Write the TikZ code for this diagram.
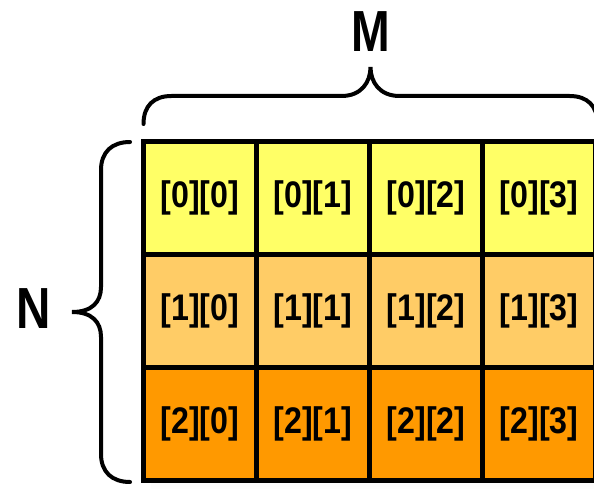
\documentclass[tikz,border=0pt]{standalone}
\usepackage{fontspec}
\setmainfont{Liberation Sans}
\usetikzlibrary{positioning,calc,backgrounds}
\definecolor{rowa}{HTML}{FFFF66}
\definecolor{rowb}{HTML}{FFCC66}
\definecolor{rowc}{HTML}{FF9900}
\colorlet{shade}{gray!28}
\tikzset{%
  cell/.style={draw, line width=5pt, minimum size=113pt, inner sep=0pt,
    font=\fontsize{37}{40}\selectfont\bfseries},
  brace/.style={line width=4pt, line cap=round},
  dim/.style={font=\fontsize{58}{60}\selectfont\bfseries, inner sep=0pt, anchor=base},
}
\newcommand*{\narrow}[2][0.87]{\scalebox{#1}[1]{#2}}

\begin{document}
\begin{tikzpicture}[x=1pt,y=-1pt]
  \useasboundingbox (0,0) rectangle (594,489);
  % the array cells
  \foreach \r/\col in {0/rowa,1/rowb,2/rowc}
    \foreach \c in {0,...,3}
      \node[cell, fill=\col] (c\r\c) at ({200+113*\c},{198+113*\r}) {\narrow{[\r][\c]}};
  \begin{scope}[on background layer]
    \fill[shade] ($(c00.north west)+(10,10)$) rectangle ($(c23.south east)+(10,10)$);
  \end{scope}
  % brace over the columns
  \coordinate (ml) at (143.5,124);
  \coordinate (mr) at (597.5,124);
  \coordinate (mtip) at (370.5,67);
  \draw[brace] (ml) .. controls +(0,-18) and +(-18,0) .. ($(ml)+(28,-28)$)
    -- ($(mtip)+(-29,29)$) .. controls +(20,0) and +(0,15) .. (mtip)
    .. controls +(0,15) and +(-20,0) .. ($(mtip)+(29,29)$)
    -- ($(mr)+(-28,-28)$) .. controls +(18,0) and +(0,-18) .. (mr);
  % brace beside the rows
  \coordinate (nt) at (130,142);
  \coordinate (nb) at (130,482);
  \coordinate (ntip) at (72,312);
  \draw[brace] (nt) .. controls +(-18,0) and +(0,-18) .. ($(nt)+(-29,28)$)
    -- ($(ntip)+(29,-25)$) .. controls +(0,15) and +(20,0) .. (ntip)
    .. controls +(20,0) and +(0,-15) .. ($(ntip)+(29,25)$)
    -- ($(nb)+(-29,-28)$) .. controls +(0,18) and +(-18,0) .. (nb);
  \node[dim] (M) at (370.5,52) {\narrow[0.8]{M}};
  \node[dim] (N) at (33.5,328) {\narrow[0.82]{N}};
\end{tikzpicture}
\end{document}
